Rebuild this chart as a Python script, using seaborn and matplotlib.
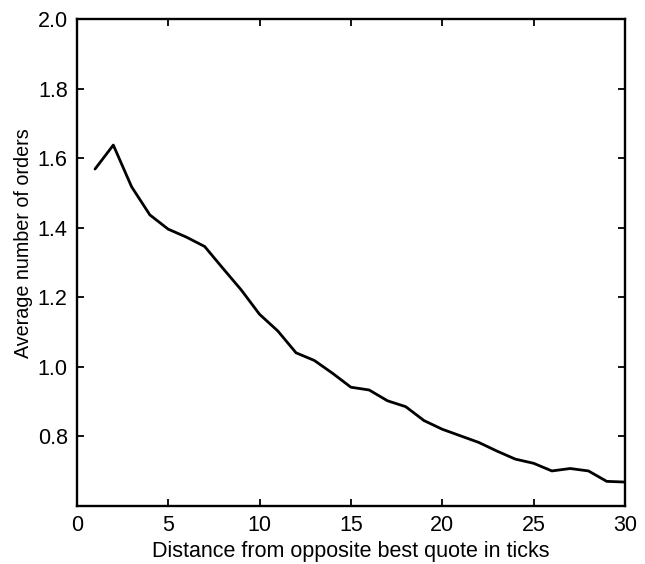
import pandas as pd
import matplotlib
matplotlib.use("Agg")
import matplotlib.pyplot as plt
import seaborn as sns

# distance from opposite best quote (ticks)
distance = list(range(1, 31))
avg_orders = [1.569, 1.638, 1.518, 1.437, 1.396, 1.373, 1.346, 1.283, 1.221, 1.151,
              1.103, 1.040, 1.018, 0.981, 0.941, 0.933, 0.902, 0.885, 0.845, 0.820,
              0.801, 0.782, 0.757, 0.734, 0.722, 0.700, 0.707, 0.700, 0.670, 0.668]

df = pd.DataFrame({"distance": distance, "orders": avg_orders})

sns.set_style("ticks", {"axes.labelcolor": "black", "text.color": "black",
                        "axes.edgecolor": "black"})
plt.rcParams["font.family"] = ["Liberation Sans", "DejaVu Sans"]

fig = plt.figure(figsize=(6.45, 5.64), dpi=100)
ax = fig.add_axes([0.119, 0.1034, 0.85, 0.8624])

sns.lineplot(x="distance", y="orders", data=df, ax=ax, color="black", linewidth=2.0)

ax.set_xlim(0, 30)
ax.set_ylim(0.6, 2.0)
ax.set_xticks([0, 5, 10, 15, 20, 25, 30])
ax.set_yticks([0.8, 1.0, 1.2, 1.4, 1.6, 1.8, 2.0])
ax.set_yticklabels(["0.8", "1.0", "1.2", "1.4", "1.6", "1.8", "2.0"])
ax.tick_params(direction="in", length=5, width=1.3, top=True, right=True,
               labelsize=15.5, colors="black", pad=6.5)
for s in ax.spines.values():
    s.set_linewidth(1.7)
    s.set_color("black")

ax.set_xlabel("Distance from opposite best quote in ticks", fontsize=15.5,
              labelpad=4, color="black")
ax.set_ylabel("Average number of orders", fontsize=14.2, color="black")
# label sits a bit above the axes centre in the reference
ax.yaxis.set_label_coords(-0.08, 0.54)

fig.savefig("out.png", dpi=100)
plt.close()
